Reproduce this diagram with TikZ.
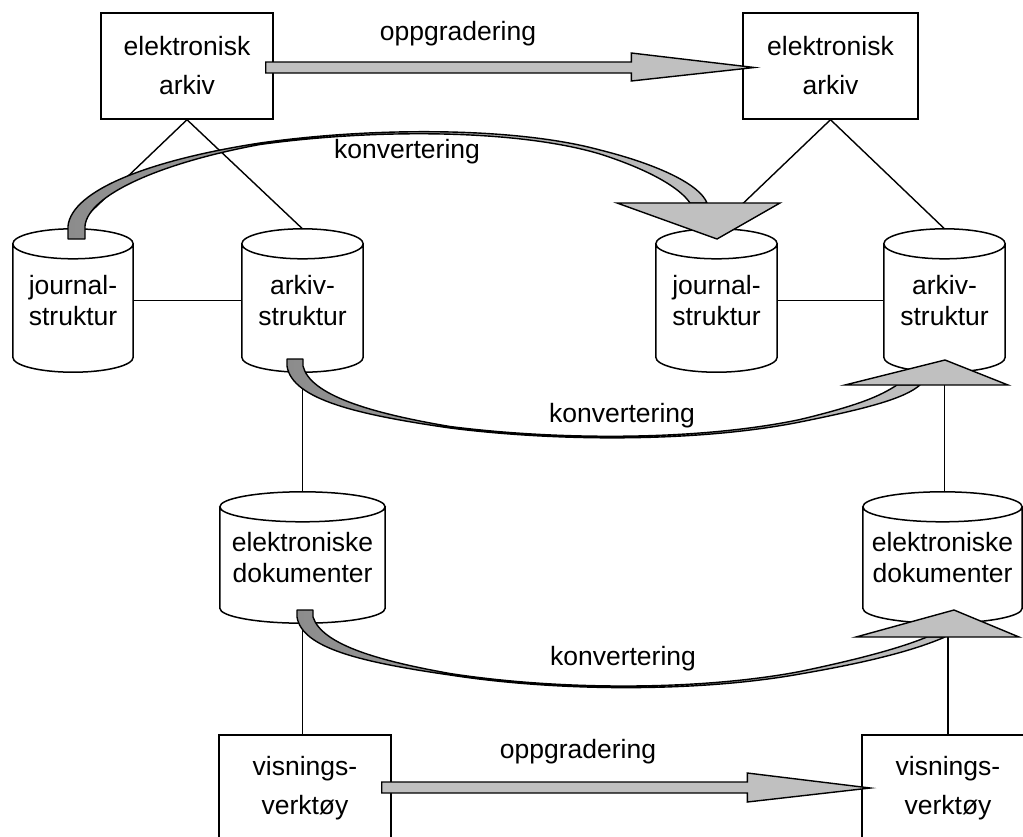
\documentclass[tikz,border=0pt]{standalone}
\usepackage{fontspec}
\setmainfont{Liberation Sans}
\usetikzlibrary{calc}

\definecolor{arrowgray}{HTML}{C0C0C0}
\definecolor{taildark}{HTML}{8C8C8C}

\tikzset{
  boxnode/.style={draw, line width=1.4pt, fill=white, minimum width=172pt,
    minimum height=106pt, inner sep=0pt, align=center,
    font=\fontsize{26.5}{39}\selectfont},
  cylnode/.style={minimum height=143pt, inner sep=0pt, align=center,
    font=\fontsize{26.5}{30.5}\selectfont},
  link/.style={draw, line width=1.4pt},
  cylline/.style={draw, line width=1.5pt},
  fatarrow/.style={draw, fill=arrowgray, line width=1.4pt, line join=miter},
  bentshaft/.style={draw, line width=1.4pt, line join=round,
    left color=taildark, right color=arrowgray},
  lbl/.style={inner sep=0pt, font=\fontsize{26.5}{30}\selectfont}
}

% outline of a storage cylinder around a named node
\newcommand\drawcyl[1]{%
  \path[cylline] let \p1=(#1.north west), \p2=(#1.south east),
      \n1={(\x2-\x1)/2} in
    (\x1,\y1-15pt) -- (\x1,\y2+15pt)
    arc[start angle=180, end angle=360, x radius=\n1, y radius=15pt]
    -- (\x2,\y1-15pt)
    (\x1+\n1,\y1-15pt) ellipse[x radius=\n1, y radius=15pt];
}

\begin{document}
\begin{tikzpicture}[x=1pt,y=-1pt]
\useasboundingbox (0,0) rectangle (1023,836);
\clip (0,0) rectangle (1023,836);

% archive boxes
\node[boxnode] (arkA) at (187,66) {elektronisk\\arkiv};
\node[boxnode, minimum width=175pt] (arkB) at (830.5,66) {elektronisk\\arkiv};

% viewer boxes
\node[boxnode] (visL) at (305,788) {visnings-\\verktøy};
\node[boxnode] (visR) at (948,788) {visnings-\\verktøy};

% storage cylinders (text)
\node[cylnode, minimum width=120pt] (jsL) at (73,300.5) {journal-\\struktur};
\node[cylnode, minimum width=121pt] (asL) at (302.5,300.5) {arkiv-\\struktur};
\node[cylnode, minimum width=121pt] (jsR) at (716.5,300.5) {journal-\\struktur};
\node[cylnode, minimum width=121pt] (asR) at (944.5,300.5) {arkiv-\\struktur};
\node[cylnode, minimum width=165pt, minimum height=131pt] (elL) at (302.5,557.5) {elektroniske\\dokumenter};
\node[cylnode, minimum width=159pt, minimum height=131pt] (elR) at (942.5,557.5) {elektroniske\\dokumenter};

% structure links
\draw[link] (arkA.south) -- (jsL.north);
\draw[link] (arkA.south) -- (asL.north);
\draw[link] (arkB.south) -- (jsR.north);
\draw[link] (arkB.south) -- (asR.north);
\draw[link] (jsL.east) -- (asL.west);
\draw[link] (jsR.east) -- (asR.west);
\draw[link] (asL.south) -- (asL.south |- elL.north);
\draw[link] (elL.south) -- (elL.south |- visL.north);
\draw[link] (asR.south) -- (asR.south |- elR.north);
\draw[link] (visR.north) -- (visR.north |- elR.south);

% cylinder outlines
\drawcyl{jsL}
\drawcyl{asL}
\drawcyl{jsR}
\drawcyl{asR}
\drawcyl{elL}
\drawcyl{elR}

% upgrade arrows
\draw[fatarrow] ($(arkA.east)+(-8,-4)$) -- ($(arkB.west)+(-111,-4)$)
  -- ($(arkB.west)+(-111,-13)$) -- ($(arkB.west)+(12,1.5)$)
  -- ($(arkB.west)+(-111,15)$) -- ($(arkB.west)+(-111,7)$)
  -- ($(arkA.east)+(-8,7)$) -- cycle;
\draw[fatarrow] ($(visL.east)+(-10,-6)$) -- ($(visR.west)+(-114,-6)$)
  -- ($(visR.west)+(-114,-15)$) -- ($(visR.west)+(9,0)$)
  -- ($(visR.west)+(-114,14)$) -- ($(visR.west)+(-114,5)$)
  -- ($(visL.east)+(-10,5)$) -- cycle;

% conversion arrows: journal structure
\draw[bentshaft] (68,239) -- (68,226)
  .. controls (72,190) and (150,160) .. (260,143)
  .. controls (380,126) and (520,128) .. (600,150)
  .. controls (660,165) and (700,185) .. (707,203)
  -- (690,203)
  .. controls (680,188) and (650,170) .. (600,154)
  .. controls (520,130) and (380,128) .. (260,144.5)
  .. controls (160,163) and (88,195) .. (85,226)
  -- (85,239) -- cycle;
\draw[fatarrow] (617,203) -- (717,239) -- (780,203) -- cycle;

% conversion arrows: archive structure
\draw[bentshaft] (287,359) -- (287,366)
  .. controls (292,400) and (360,415) .. (450,428)
  .. controls (560,442) and (700,442) .. (800,422)
  .. controls (870,408) and (905,398) .. (920,385)
  -- (897,385)
  .. controls (880,396) and (860,405) .. (800,419.5)
  .. controls (700,440.5) and (560,440.5) .. (450,426.5)
  .. controls (370,413) and (310,395) .. (303,366)
  -- (303,359) -- cycle;
\draw[fatarrow] (845,385) -- (945,360) -- (1008,385) -- cycle;

% conversion arrows: electronic documents
\draw[bentshaft] (297,610) -- (297,617)
  .. controls (302,648) and (360,662) .. (450,675)
  .. controls (560,692) and (700,692) .. (800,674)
  .. controls (870,662) and (915,650) .. (945,637)
  -- (927,637)
  .. controls (900,648) and (860,659) .. (800,671.5)
  .. controls (700,690.5) and (560,690.5) .. (450,673.5)
  .. controls (380,661) and (322,645) .. (313,617)
  -- (313,610) -- cycle;
\draw[fatarrow] (856,637) -- (954,610) -- (1019,637) -- cycle;

% labels
\node[lbl] (up1) at (458,34) {oppgradering};
\node[lbl] (up2) at (578,752) {oppgradering};
\node[lbl] (kv1) at (407,152) {konvertering};
\node[lbl] (kv2) at (622,416) {konvertering};
\node[lbl] (kv3) at (623,659) {konvertering};
\end{tikzpicture}
\end{document}
